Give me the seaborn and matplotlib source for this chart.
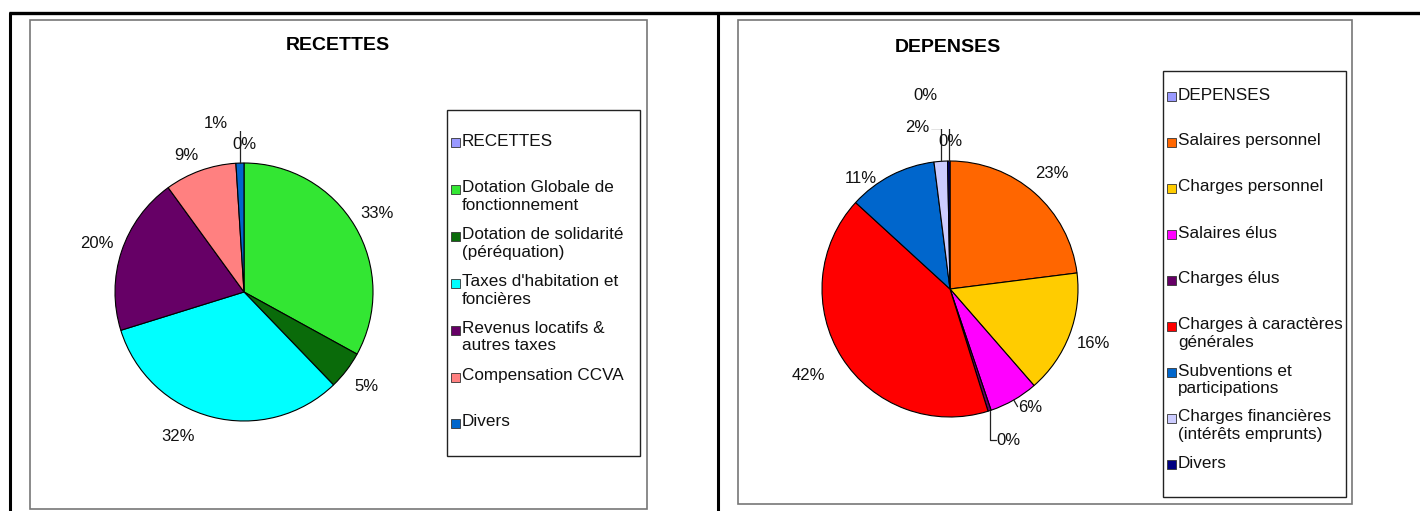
import numpy as np
import matplotlib.pyplot as plt
import seaborn as sns
from matplotlib.patches import Rectangle

# DATA (percent of total)
recettes_labels = ["RECETTES", "Dotation Globale de\nfonctionnement",
                   "Dotation de solidarité\n(péréquation)", "Taxes d'habitation et\nfoncières",
                   "Revenus locatifs &\nautres taxes", "Compensation CCVA", "Divers"]
recettes_values = [0, 33.0, 4.8, 32.4, 19.8, 9.0, 1.0]
recettes_colors = ["#9999FF", "#33E633", "#0A6B0A", "#00FFFF", "#660066", "#FF8080", "#0066CC"]

depenses_labels = ["DEPENSES", "Salaires personnel", "Charges personnel", "Salaires élus",
                   "Charges élus", "Charges à caractères\ngénérales", "Subventions et\nparticipations",
                   "Charges financières\n(intérêts emprunts)", "Divers"]
depenses_values = [0, 23.0, 15.6, 6.2, 0.4, 41.6, 11.2, 1.7, 0.3]
depenses_colors = ["#9999FF", "#FF6600", "#FFCC00", "#FF00FF", "#660066", "#FF0000",
                   "#0066CC", "#CCCCFF", "#000080"]

sns.set_theme(style="white")
plt.rcParams['font.family'] = ['Liberation Sans', 'DejaVu Sans']

W, H = 1420, 511
fig = plt.figure(figsize=(W / 100, H / 100), dpi=100)
fig.patch.set_facecolor("white")

# background axes in pixel coords (top-left origin) for frames & legends
bg = fig.add_axes([0, 0, 1, 1])
bg.set_xlim(0, W)
bg.set_ylim(H, 0)
bg.axis("off")

# table frame
bg.plot([9, W], [13, 13], color="black", lw=2.4, solid_capstyle="butt")
bg.plot([10, 10], [13, H], color="black", lw=2.2)
bg.plot([718, 718], [13, H], color="black", lw=2.2)

# chart boxes
for x0, y0, x1, y1 in [(30, 20, 647, 509), (738, 20, 1352, 504)]:
    bg.add_patch(Rectangle((x0, y0), x1 - x0, y1 - y0, fill=False, ec="#777777", lw=1.2))

bg.text(338, 46, "RECETTES", ha="center", va="center", fontsize=14, fontweight="bold", color="black")
bg.text(948, 47, "DEPENSES", ha="center", va="center", fontsize=14, fontweight="bold", color="black")


def draw_legend(box, first_y, step, labels, colors):
    x0, y0, x1, y1 = box
    bg.add_patch(Rectangle((x0, y0), x1 - x0, y1 - y0, fill=False, ec="#222222", lw=1.0))
    for i, (lab, col) in enumerate(zip(labels, colors)):
        yc = first_y + step * i
        bg.add_patch(Rectangle((x0 + 4, yc - 4.5), 9, 9, fc=col, ec="#333333", lw=0.6))
        bg.text(x0 + 15, yc - 9.5, lab, ha="left", va="top", fontsize=12.3,
                linespacing=1.22, color="#111111")


draw_legend((447, 110, 640, 456), 143, 46.83, recettes_labels, recettes_colors)
draw_legend((1163, 71, 1346, 497), 97, 46.0, depenses_labels, depenses_colors)


def draw_pie(cx, cy, r, values, colors, callouts):
    s = 2.5 * r
    ax = fig.add_axes([(cx - s / 2) / W, (H - cy - s / 2) / H, s / W, s / H])
    wedges, _ = ax.pie(values, colors=colors, startangle=90, counterclock=False,
                       wedgeprops=dict(edgecolor="black", linewidth=0.8))
    ax.set_xlim(-1.25, 1.25)
    ax.set_ylim(-1.25, 1.25)
    ax.set_aspect("equal")
    ax.patch.set_visible(False)
    lk = dict(color="#222222", lw=0.9)
    tk = dict(fontsize=12, color="#111111")
    for i, (w, v) in enumerate(zip(wedges, values)):
        mid = np.deg2rad((w.theta1 + w.theta2) / 2)
        x, y = np.cos(mid), np.sin(mid)
        txt = f"{round(v)}%"
        kind = callouts.get(i)
        if kind is None:
            ax.text(1.2 * x, 1.2 * y, txt, ha="center", va="center", **tk)
        elif kind[0] == "polar":
            # angle measured clockwise from 12 o'clock, distance in radii
            a = np.deg2rad(90 - kind[1])
            ax.text(kind[2] * np.cos(a), kind[2] * np.sin(a), txt, ha="center", va="center", **tk)
        elif kind[0] == "above":
            ax.text(x, kind[1], txt, ha="center", va="center", **tk)
        elif kind[0] == "up":
            lvl = kind[1]
            ax.plot([x, x, x - 0.08], [y, lvl, lvl], **lk)
            ax.text(x - 0.09, lvl, txt, ha="right", va="center", **tk)
        elif kind[0] == "down":
            lvl = -kind[1]
            ax.plot([x, x, x + 0.05], [y, lvl, lvl], **lk)
            ax.text(x + 0.05, lvl, txt, ha="left", va="center", **tk)
        elif kind[0] == "short":
            ax.plot([x, x * kind[1]], [y, y * kind[1]], **lk)
            ax.text(x * (kind[1] + 0.01), y * (kind[1] + 0.01), txt, ha="left", va="center", **tk)
    return ax


draw_pie(244, 292, 129, recettes_values, recettes_colors,
         {0: ("above", 1.14), 3: ("polar", 204.5, 1.23), 5: ("polar", 337, 1.15),
          6: ("up", 1.31)})
draw_pie(950, 289, 128, depenses_values, depenses_colors,
         {0: ("above", 1.15), 3: ("short", 1.06), 4: ("down", 1.18),
          5: ("polar", 238.5, 1.3), 6: ("polar", 321, 1.11),
          7: ("up", 1.26), 8: ("up", 1.51)})

fig.savefig("out.png", dpi=100, facecolor="white")
